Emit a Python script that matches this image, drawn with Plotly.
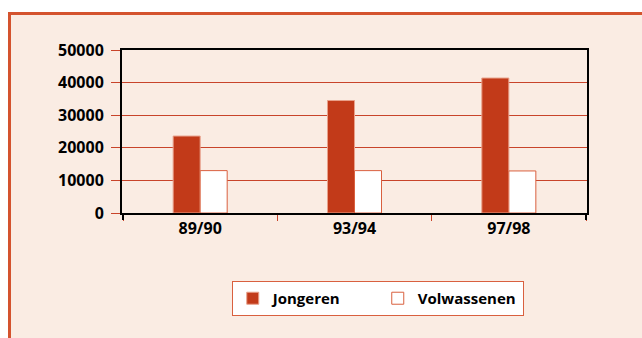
import plotly.graph_objects as go

# Student numbers per school year
years = ["89/90", "93/94", "97/98"]
jongeren = [23600, 34500, 41400]
volwassenen = [13000, 13000, 12900]
y_ticks = [0, 10000, 20000, 30000, 40000, 50000]

RED = "#C23A19"
GRID = "#C8442A"
PEACH = "#FAECE3"
FRAME = "#D4532E"
FONT = "Open Sans"

W, H = 642, 338
L, R, T, B = 122, 55, 50, 125

fig = go.Figure()
fig.add_trace(go.Bar(
    name="Jongeren", x=years, y=jongeren,
    marker=dict(color=RED, line=dict(color="#E8A08A", width=1)),
))
fig.add_trace(go.Bar(
    name="Volwassenen", x=years, y=volwassenen,
    marker=dict(color="white", line=dict(color="#D9603F", width=1)),
))

pw = W - L - R
ph = H - T - B


def px_x(p):
    return (p - L) / pw


def px_y(p):
    return (H - B - p) / ph


# white margin above and left of the panel frame
fig.add_shape(type="rect", xref="paper", yref="paper", layer="below",
              x0=px_x(0), x1=px_x(W), y0=px_y(12), y1=px_y(0),
              fillcolor="white", line=dict(width=0))
fig.add_shape(type="rect", xref="paper", yref="paper", layer="below",
              x0=px_x(0), x1=px_x(8), y0=px_y(H), y1=px_y(0),
              fillcolor="white", line=dict(width=0))
# frame bands along the top and left edge
fig.add_shape(type="rect", xref="paper", yref="paper", layer="below",
              x0=px_x(8), x1=px_x(W), y0=px_y(15), y1=px_y(12),
              fillcolor=FRAME, line=dict(width=0))
fig.add_shape(type="rect", xref="paper", yref="paper", layer="below",
              x0=px_x(8), x1=px_x(11), y0=px_y(H), y1=px_y(12),
              fillcolor=FRAME, line=dict(width=0))
# black end ticks of the category axis
for xv in (-0.5, 2.5):
    fig.add_shape(type="line", xref="x", yref="paper",
                  x0=xv, x1=xv, y0=0, y1=-7 / ph,
                  line=dict(color="black", width=2))

fig.update_layout(
    width=W, height=H,
    margin=dict(l=L, r=R, t=T, b=B),
    paper_bgcolor=PEACH,
    plot_bgcolor=PEACH,
    barmode="group",
    bargap=0.65,
    bargroupgap=0,
    font=dict(family=FONT, size=16, color="black", weight="bold"),
    showlegend=True,
    legend=dict(
        orientation="h",
        x=0.55, xanchor="center",
        y=-0.417, yanchor="top",
        bgcolor="white",
        bordercolor="#D9603F", borderwidth=1,
        font=dict(family=FONT, size=15, color="black", weight="bold"),
        entrywidth=100,
        traceorder="normal",
    ),
    xaxis=dict(
        type="category",
        showline=True, linecolor="black", linewidth=2,
        mirror=True,
        ticks="outside", tickson="boundaries",
        ticklen=6, tickcolor=GRID, tickwidth=1,
        tickfont=dict(family=FONT, size=16, color="black", weight="bold"),
        showgrid=False,
    ),
    yaxis=dict(
        range=[0, 50000],
        tickvals=y_ticks,
        ticktext=[str(v) for v in y_ticks],
        showline=True, linecolor="black", linewidth=2,
        mirror=True,
        ticks="outside", ticklen=9, tickcolor=GRID, tickwidth=1,
        showgrid=True, gridcolor=GRID, gridwidth=1,
        zeroline=False,
        tickfont=dict(family=FONT, size=16, color="black", weight="bold"),
        ticklabelstandoff=4,
    ),
)

fig.write_html("out.html")
